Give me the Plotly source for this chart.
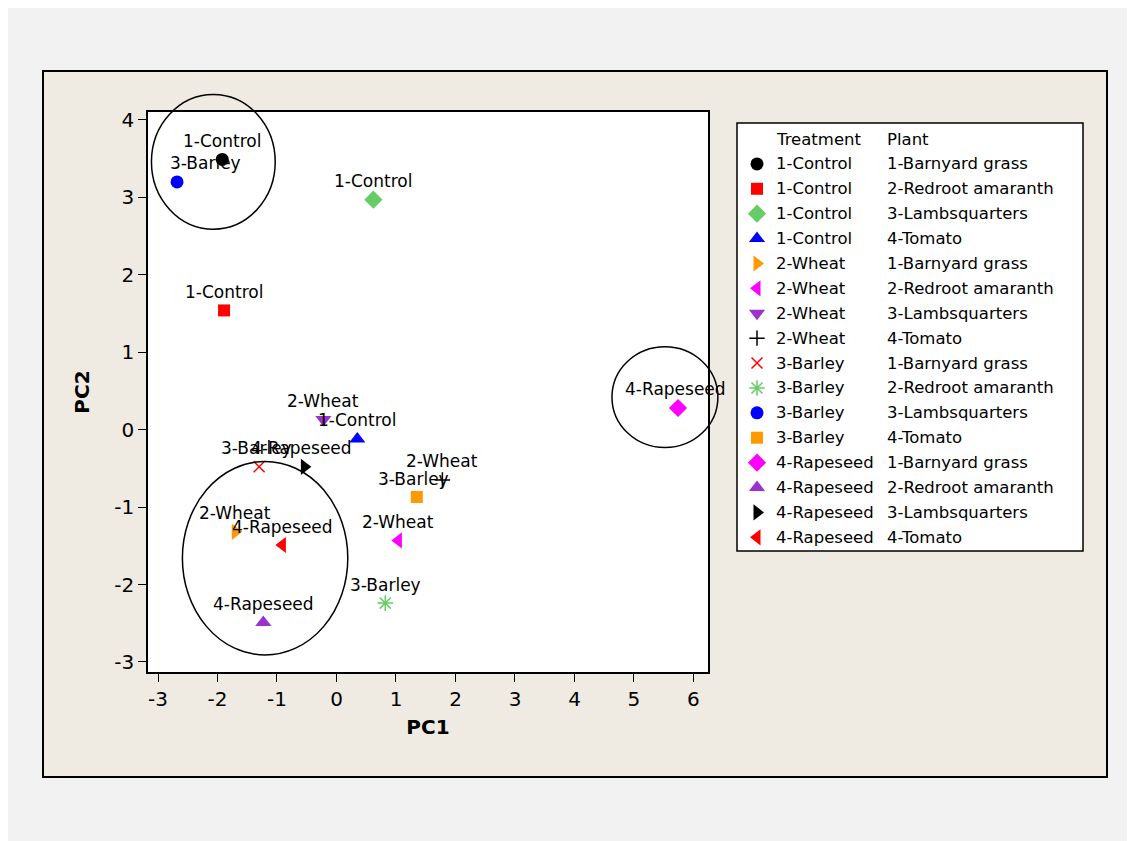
import plotly.graph_objects as go

# PCA scores
treatment = ["1-Control", "1-Control", "1-Control", "1-Control",
             "2-Wheat", "2-Wheat", "2-Wheat", "2-Wheat",
             "3-Barley", "3-Barley", "3-Barley", "3-Barley",
             "4-Rapeseed", "4-Rapeseed", "4-Rapeseed", "4-Rapeseed"]
plant = ["1-Barnyard grass", "2-Redroot amaranth", "3-Lambsquarters", "4-Tomato"] * 4
pc1 = [-1.92, -1.89, 0.62, 0.35,
       -1.70, 1.04, -0.22, 1.78,
       -1.30, 0.82, -2.68, 1.35,
       5.74, -1.23, -0.54, -0.91]
pc2 = [3.49, 1.54, 2.97, -0.12,
       -1.32, -1.43, 0.13, -0.65,
       -0.48, -2.24, 3.20, -0.87,
       0.28, -2.49, -0.48, -1.49]

xtick_vals = [-3, -2, -1, 0, 1, 2, 3, 4, 5, 6]
xtick_text = ["-3", "-2", "-1", "0", "1", "2", "3", "4", "5", "6"]
ytick_vals = [-3, -2, -1, 0, 1, 2, 3, 4]
ytick_text = ["-3", "-2", "-1", "0", "1", "2", "3", "4"]

# circled groups: centre x, centre y, radius x, radius y (data units)
groups = [(-2.07, 3.46, 1.04, 0.87),
          (-1.20, -1.66, 1.39, 1.25),
          (5.52, 0.42, 0.89, 0.65)]

# marker styles, one per point
symbols = ["circle", "square", "diamond", "triangle-up",
           "triangle-right", "triangle-left", "triangle-down", "cross-thin-open",
           "x-thin-open", "asterisk-open", "circle", "square",
           "diamond", "triangle-up", "triangle-right", "triangle-left"]
colors = ["#000000", "#ff0000", "#66cc66", "#0000ff",
          "#ff9900", "#ff00ff", "#9933cc", "#000000",
          "#ff0000", "#66cc66", "#0000ff", "#ff9900",
          "#ff00ff", "#9933cc", "#000000", "#ff0000"]
sizes = [13, 12, 14, 14, 14, 14, 14, 11, 11, 13, 13, 12, 14, 14, 14, 14]
label_dx = [0, 0, 0, 0, 0, 0, 0, 0, -3, 0, 28, -3, -3, 0, -3, 0]

OX, OY = 8, 8   # page margin in front of the figure
W, H = 1135 - OX, 841 - OY
xdom = [(148 - OX) / W, (708 - OX) / W]
ydom = [1 - (672 - OY) / H, 1 - (112 - OY) / H]
xrng = [-3.168, 6.244]
yrng = [-3.13, 4.103]


def to_px(x):
    return xdom[0] + (x - xrng[0]) / (xrng[1] - xrng[0]) * (xdom[1] - xdom[0])


def to_py(y):
    return ydom[0] + (y - yrng[0]) / (yrng[1] - yrng[0]) * (ydom[1] - ydom[0])


FONT = "DejaVu Sans"
line_w = [0 if "open" not in s else 1.5 for s in symbols]

fig = go.Figure()
fig.add_trace(go.Scatter(
    x=pc1, y=pc2, mode="markers", showlegend=False, hoverinfo="skip",
    marker=dict(symbol=symbols, color=colors, size=sizes, opacity=1,
                line=dict(color=colors, width=line_w)),
    cliponaxis=False,
))

# legend drawn on its own small axis
rows = list(range(1, len(treatment) + 1))
fig.add_trace(go.Scatter(
    x=[20] * len(rows), y=rows, mode="markers", showlegend=False, hoverinfo="skip",
    xaxis="x2", yaxis="y2",
    marker=dict(symbol=symbols, color=colors, size=sizes, opacity=1,
                line=dict(color=colors, width=line_w)),
))

ann = []
for i in range(len(pc1)):
    ann.append(dict(x=pc1[i], y=pc2[i], xref="x", yref="y", text=treatment[i],
                    showarrow=False, yshift=18.5, xshift=label_dx[i],
                    font=dict(family=FONT, size=17, color="black")))

ann.append(dict(x=37, y=0, xref="x2", yref="y2", text="Treatment", showarrow=False,
                xanchor="left", font=dict(family=FONT, size=16.5, color="black")))
ann.append(dict(x=148, y=0, xref="x2", yref="y2", text="Plant", showarrow=False,
                xanchor="left", font=dict(family=FONT, size=16.5, color="black")))
for i, r in enumerate(rows):
    ann.append(dict(x=37, y=r, xref="x2", yref="y2", text=treatment[i], showarrow=False,
                    xanchor="left", font=dict(family=FONT, size=16.5, color="black")))
    ann.append(dict(x=148, y=r, xref="x2", yref="y2", text=plant[i], showarrow=False,
                    xanchor="left", font=dict(family=FONT, size=16.5, color="black")))

shapes = [
    dict(type="rect", xref="paper", yref="paper", x0=(43 - OX) / W, x1=(1107 - OX) / W,
         y0=1 - (777 - OY) / H, y1=1 - (71 - OY) / H,
         fillcolor="#efebe2", line=dict(color="black", width=2), layer="below"),
    dict(type="rect", xref="x domain", yref="y domain", x0=0, x1=1, y0=0, y1=1,
         fillcolor="white", line=dict(width=0), layer="below"),
    dict(type="rect", xref="x2 domain", yref="y2 domain", x0=0, x1=1, y0=0, y1=1,
         fillcolor="white", line=dict(color="black", width=1.5), layer="below"),
]
for cx, cy, rx, ry in groups:
    shapes.append(dict(type="circle", xref="paper", yref="paper",
                       x0=to_px(cx - rx), x1=to_px(cx + rx),
                       y0=to_py(cy - ry), y1=to_py(cy + ry),
                       line=dict(color="black", width=1.5), layer="above"))

fig.update_layout(
    width=W, height=H,
    margin=dict(l=0, r=0, t=0, b=0),
    paper_bgcolor="#f2f2f2", plot_bgcolor="white",
    font=dict(family=FONT, color="black"),
    shapes=shapes, annotations=ann,
    xaxis=dict(domain=xdom, range=xrng, tickvals=xtick_vals, ticktext=xtick_text,
               showgrid=False, zeroline=False, showline=True, mirror=True,
               linecolor="black", linewidth=1.5, ticks="outside", ticklen=8,
               tickcolor="black", tickfont=dict(size=20),
               title=dict(text="<b>PC1</b>", font=dict(size=20), standoff=10),
               automargin=False),
    yaxis=dict(domain=ydom, range=yrng, tickvals=ytick_vals, ticktext=ytick_text,
               showgrid=False, zeroline=False, showline=True, mirror=True,
               linecolor="black", linewidth=1.5, ticks="outside", ticklen=8,
               tickcolor="black", tickfont=dict(size=20),
               title=dict(text="<b>PC2</b>", font=dict(size=20), standoff=19),
               automargin=False),
    xaxis2=dict(domain=[(737 - OX) / W, (1083 - OX) / W], range=[0, 346], visible=False,
                anchor="y2", fixedrange=True),
    yaxis2=dict(domain=[1 - (551 - OY) / H, 1 - (123 - OY) / H], range=[16.55, -0.643],
                visible=False, anchor="x2", fixedrange=True),
)

fig.write_html("out.html")
